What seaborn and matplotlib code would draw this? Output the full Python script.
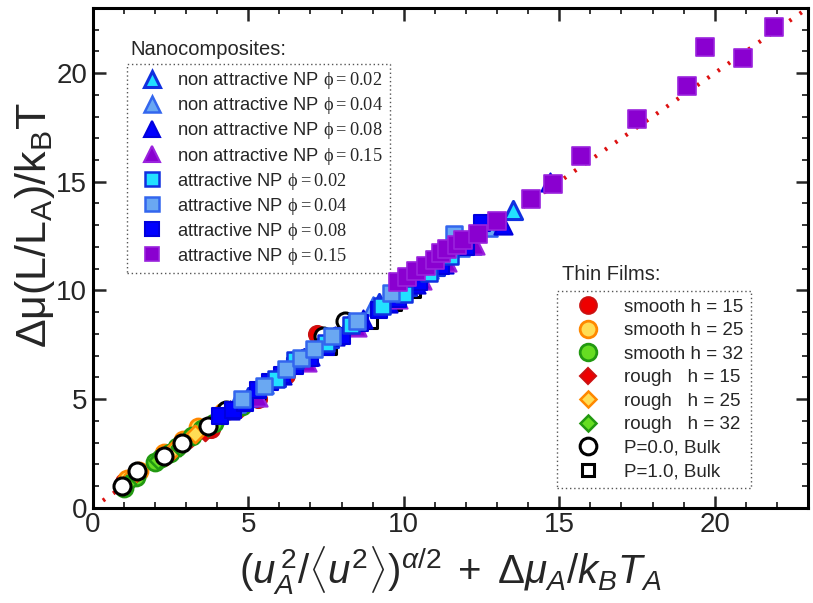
import matplotlib as mpl
import matplotlib.pyplot as plt
import seaborn as sns
from matplotlib.lines import Line2D

# --- datos ---
# nanocompuestos, NP no atractivas (triangulos)
nonattr_002_x = [5.0, 5.9, 6.8, 7.6, 8.4, 9.2, 10.1, 11.0, 12.1, 13.5]
nonattr_002_y = [5.1, 6.0, 6.9, 7.8, 8.5, 9.4, 10.2, 11.1, 12.2, 13.7]
nonattr_004_x = [4.6, 5.5, 6.4, 7.3, 8.2, 9.0, 9.9, 10.8, 11.8, 12.7]
nonattr_004_y = [4.8, 5.7, 6.6, 7.5, 8.4, 9.3, 10.0, 11.0, 12.0, 12.9]
nonattr_008_x = [4.4, 5.2, 6.1, 7.0, 7.8, 8.7, 9.5, 10.4, 11.3, 12.2, 13.2, 14.7]
nonattr_008_y = [4.5, 5.3, 6.1, 7.0, 7.9, 8.7, 9.4, 10.3, 11.2, 12.1, 13.0, 15.0]
nonattr_015_x = [5.3, 6.9, 8.5, 9.8, 10.6, 11.4, 12.3]
nonattr_015_y = [5.1, 6.7, 8.3, 9.6, 10.5, 11.3, 12.1]

# nanocompuestos, NP atractivas (cuadrados)
attr_002_x = [5.9, 6.5, 7.5, 8.3, 9.3, 10.0, 10.8, 11.5]
attr_002_y = [5.9, 6.8, 7.6, 8.4, 9.3, 9.85, 10.8, 11.6]
attr_004_x = [4.8, 5.5, 6.2, 6.7, 7.1, 7.7, 8.5, 9.6, 11.6]
attr_004_y = [5.0, 5.6, 6.4, 6.9, 7.3, 7.9, 8.6, 9.9, 12.6]
attr_008_x = [4.1, 4.5, 4.9, 5.3, 5.7, 6.1, 6.5, 7.0, 7.5, 8.0, 8.6, 9.2, 9.8, 10.5, 11.2, 12.0, 12.5]
attr_008_y = [4.2, 4.5, 4.8, 5.4, 5.8, 6.1, 6.5, 6.9, 7.4, 7.9, 8.5, 9.1, 9.6, 10.4, 11.1, 12.0, 13.1]
attr_015_x = [9.8, 10.1, 10.4, 10.7, 11.0, 11.2, 11.4, 11.7, 11.9, 12.4, 13.0,
              14.1, 14.8, 15.7, 17.5, 19.1, 19.7, 20.9, 21.9]
attr_015_y = [10.4, 10.6, 10.9, 11.1, 11.4, 11.7, 11.9, 12.1, 12.3, 12.6, 13.2,
              14.2, 14.9, 16.2, 17.9, 19.4, 21.2, 20.7, 22.1]

# peliculas delgadas
smooth15_x = [1.0, 1.4, 2.2, 3.0, 3.8, 4.6, 5.3, 6.2, 7.2]
smooth15_y = [1.2, 1.5, 2.3, 3.1, 3.6, 4.5, 5.0, 6.1, 8.0]
smooth25_x = [1.1, 1.5, 2.3, 2.9, 3.4, 4.2]
smooth25_y = [1.3, 1.7, 2.5, 3.1, 3.7, 4.4]
smooth32_x = [1.0, 1.4, 2.0, 2.2, 2.5, 2.7, 3.2, 3.5, 3.9, 4.8]
smooth32_y = [0.9, 1.4, 2.1, 2.3, 2.5, 2.8, 3.3, 3.6, 3.9, 4.7]
rough15_x = [1.2, 2.4, 3.6, 5.1, 6.6]
rough15_y = [1.3, 2.4, 3.5, 5.0, 6.7]
rough25_x = [1.3, 2.6, 3.3, 4.4]
rough25_y = [1.5, 2.7, 3.4, 4.5]
rough32_x = [1.1, 2.1, 2.8, 3.7, 4.9]
rough32_y = [1.1, 2.2, 2.8, 3.7, 4.8]

# bulk
bulk_p0_x = [0.93, 1.44, 2.3, 2.88, 3.72, 4.3, 5.26, 6.7, 7.4, 8.1]
bulk_p0_y = [1.0, 1.7, 2.4, 3.0, 3.75, 4.5, 5.1, 6.8, 7.9, 8.6]
bulk_p1_x = [7.6, 8.9, 9.7, 10.3]
bulk_p1_y = [7.4, 8.6, 9.4, 10.0]

# recta de referencia y = x
ref_x = [0, 23]
ref_y = [0, 23]

nano_labels = [
    "non attractive NP ", "non attractive NP ", "non attractive NP ", "non attractive NP ",
    "attractive NP ", "attractive NP ", "attractive NP ", "attractive NP ",
]
nano_phi = ["0.02", "0.04", "0.08", "0.15", "0.02", "0.04", "0.08", "0.15"]
film_labels = ["smooth h = 15", "smooth h = 25", "smooth h = 32",
               "rough   h = 15", "rough   h = 25", "rough   h = 32",
               "P=0.0, Bulk", "P=1.0, Bulk"]

# --- estilo ---
sns.set_theme(style="ticks")
plt.rcParams['font.family'] = ['Liberation Sans', 'DejaVu Sans']
plt.rcParams['mathtext.fontset'] = 'custom'
plt.rcParams['mathtext.rm'] = 'Liberation Sans'
plt.rcParams['mathtext.sf'] = 'Liberation Sans'
plt.rcParams['mathtext.it'] = 'Liberation Sans:italic'
plt.rcParams['mathtext.cal'] = 'Liberation Serif'

CYAN, CYAN_E = '#22e0ff', '#1030e0'
LBLUE, LBLUE_E = '#6aa8f2', '#3366ee'
BLUE, BLUE_E = '#0000ff', '#0000dd'
PURP, PURP_E = '#8a00d0', '#9a22dd'
RED, RED_E = '#ee0000', '#cc1111'
YEL, YEL_E = '#ffdd55', '#ff8800'
GRN, GRN_E = '#66dd22', '#229911'

# (x, y, marker, cara, borde, tamano, grosor)
film_series = [
    (smooth15_x, smooth15_y, 'o', RED, RED_E, 150, 1.5),
    (smooth25_x, smooth25_y, 'o', YEL, YEL_E, 150, 2.0),
    (smooth32_x, smooth32_y, 'o', GRN, GRN_E, 150, 2.0),
    (rough15_x, rough15_y, 'D', RED, RED_E, 80, 1.5),
    (rough25_x, rough25_y, 'D', YEL, YEL_E, 80, 1.8),
    (rough32_x, rough32_y, 'D', GRN, GRN_E, 80, 1.8),
    (bulk_p0_x, bulk_p0_y, 'o', 'white', 'black', 150, 2.2),
    (bulk_p1_x, bulk_p1_y, 's', 'white', 'black', 110, 2.2),
]
nano_series = [
    (nonattr_002_x, nonattr_002_y, '^', CYAN, CYAN_E, 170, 2.2),
    (nonattr_004_x, nonattr_004_y, '^', LBLUE, LBLUE_E, 170, 1.8),
    (nonattr_008_x, nonattr_008_y, '^', BLUE, BLUE_E, 170, 1.5),
    (nonattr_015_x, nonattr_015_y, '^', PURP, PURP_E, 170, 1.5),
    (attr_008_x, attr_008_y, 's', BLUE, BLUE_E, 140, 1.5),
    (attr_002_x, attr_002_y, 's', CYAN, CYAN_E, 140, 1.8),
    (attr_004_x, attr_004_y, 's', LBLUE, LBLUE_E, 140, 1.8),
    (attr_015_x, attr_015_y, 's', PURP, PURP_E, 160, 1.2),
]

fig = plt.figure(figsize=(8.13, 6.03), dpi=100)
ax = fig.add_axes([0.114, 0.158, 0.880, 0.829])

sns.lineplot(x=ref_x, y=ref_y, ax=ax, color='#dd1111', lw=3,
             linestyle=(0, (0.6, 2.4)), zorder=1)

z = 2
for xs, ys, m, fc, ec, s, lw in film_series + nano_series:
    sns.scatterplot(x=xs, y=ys, ax=ax, marker=m, color=fc, edgecolor=ec,
                    s=s, linewidth=lw, zorder=z, legend=False)
    z += 1

ax.set_xlim(0, 23)
ax.set_ylim(0, 23)
ax.set_xticks([0, 5, 10, 15, 20])
ax.set_yticks([0, 5, 10, 15, 20])
ax.set_xticks(range(0, 24), minor=True)
ax.set_yticks(range(0, 24), minor=True)
ax.tick_params(which='both', direction='in', top=True, right=True, width=1.8,
               labelsize=20)
ax.tick_params(axis='x', which='major', pad=3)
ax.tick_params(axis='y', which='major', pad=4)
ax.tick_params(which='major', length=9)
ax.tick_params(which='minor', length=4.5, width=1.3)
for sp in ax.spines.values():
    sp.set_linewidth(2.2)
    sp.set_color('black')

ax.set_xlabel(r"$(u_A^{\,2}/\langle u^2\rangle)^{\alpha/2}\;+\;\mathit{\Delta}\mu_A/k_BT_A$",
              fontsize=29)
ax.xaxis.set_label_coords(0.5, -0.072)
ax.set_ylabel(r"$\mathsf{\Delta\mu(L/L_A)/k_BT}$", fontsize=31)
ax.yaxis.set_label_coords(-0.05, 0.566)

# --- leyendas ---
def handle(m, fc, ec, ms, mew):
    return Line2D([], [], marker=m, linestyle='none', markersize=ms,
                  markerfacecolor=fc, markeredgecolor=ec, markeredgewidth=mew)

nano_handles = [handle(m, fc, ec, 11 if m == '^' else 9.5, lw)
                for _, _, m, fc, ec, _, lw in nano_series]
# orden de la leyenda: triangulos 0.02..0.15, cuadrados 0.02..0.15
nano_order = [0, 1, 2, 3, 5, 6, 4, 7]
nano_handles = [nano_handles[i] for i in nano_order]
nano_text = [lab + r"$\mathcal{\phi{=}" + p + "}$" for lab, p in zip(nano_labels, nano_phi)]

leg1 = ax.legend(nano_handles, nano_text, loc='upper left',
                 bbox_to_anchor=(127 / 813, 1 - 64 / 603), bbox_transform=fig.transFigure,
                 fontsize=13.2, frameon=True, fancybox=False, framealpha=1,
                 edgecolor='#555555', borderpad=0.35, labelspacing=0.22,
                 handletextpad=0.4, handlelength=2.0, borderaxespad=0)
leg1.get_frame().set_linestyle((0, (1, 2)))
leg1.get_frame().set_linewidth(1.0)
ax.add_artist(leg1)

film_handles = [handle(m, fc, ec, 12 if m == 'o' else 8.5, lw)
                for _, _, m, fc, ec, _, lw in film_series]
leg2 = ax.legend(film_handles, film_labels, loc='upper left',
                 bbox_to_anchor=(557 / 813, 1 - 291 / 603), bbox_transform=fig.transFigure,
                 fontsize=13.5, frameon=True, fancybox=False, framealpha=1,
                 edgecolor='#555555', borderpad=0.4, labelspacing=0.34,
                 handletextpad=0.67, handlelength=2.5, borderaxespad=0)
leg2.get_frame().set_linestyle((0, (1, 2)))
leg2.get_frame().set_linewidth(1.0)

fig.text(130 / 813, 1 - 40 / 603, "Nanocomposites:", fontsize=14.5, va='top', ha='left')
fig.text(562 / 813, 1 - 265 / 603, "Thin Films:", fontsize=14.5, va='top', ha='left')

fig.savefig("out.png", dpi=100)
plt.close(fig)
